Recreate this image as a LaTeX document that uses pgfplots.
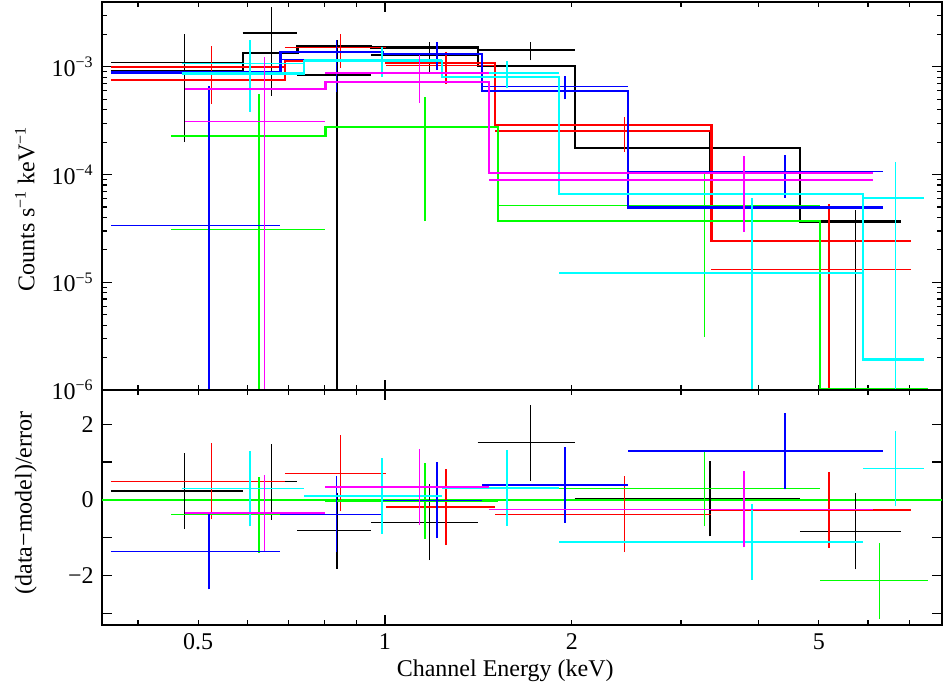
\documentclass[border=0pt]{standalone}
\usepackage{fontspec}
\setmainfont{Liberation Serif}
\usepackage{pgfplots}
\pgfplotsset{compat=1.18}

\definecolor{pgred}{RGB}{255,0,0}
\definecolor{pggreen}{RGB}{0,255,0}
\definecolor{pgblue}{RGB}{0,0,255}
\definecolor{pgcyan}{RGB}{0,255,255}
\definecolor{pgmag}{RGB}{255,0,255}

% data crosses are drawn as segments: bin edges at the rate, and the
% error range at the bin centre; (1,nan) breaks the line between bins.
% lower ends at 1e-7 are errors running below zero (cut by the axis).
\pgfplotsset{
  dl/.style={draw=#1, line width=0.75pt, mark=none, unbounded coords=jump},
  mdl/.style={const plot mark left, mark=none, line width=1.1pt, draw=#1},
}

\begin{document}
\fontsize{12}{14}\selectfont
\begin{tikzpicture}
\begin{axis}[name=top, at={(0,0)}, anchor=north west,
    scale only axis, width=420pt, height=194pt,
    xmode=log, xmin=0.35, xmax=7.9,
    xtick={1}, minor xtick={0.4,0.5,0.6,0.7,0.8,0.9,2,3,4,5,6,7},
    xticklabels={},
    xtick pos=both, ytick pos=both,
    tick align=inside,
    major tick length=5pt, minor tick length=2.5pt,
    tick style={black, line width=0.6pt},
    axis line style={line width=0.65pt},
    ymode=log, ymin=1e-6, ymax=4e-3,
    ytick={1e-6,1e-5,1e-4,1e-3},
    yticklabels={10\textsuperscript{−6},10\textsuperscript{−5},10\textsuperscript{−4},10\textsuperscript{−3}},
    minor ytick={2e-6,3e-6,4e-6,5e-6,6e-6,7e-6,8e-6,9e-6,
                 2e-5,3e-5,4e-5,5e-5,6e-5,7e-5,8e-5,9e-5,
                 2e-4,3e-4,4e-4,5e-4,6e-4,7e-4,8e-4,9e-4,2e-3,3e-3},
    ylabel={Counts s\textsuperscript{−1} keV\textsuperscript{−1}},
    ylabel style={at={(axis description cs:-0.0917,0.467)}, anchor=center},
]
% black
\addplot[dl=black] coordinates {
 (0.3617,1.10e-3) (0.5897,1.10e-3) (1,nan)
 (0.5897,2.07e-3) (0.7227,2.07e-3) (1,nan)
 (0.7227,8.43e-4) (0.9500,8.43e-4) (1,nan)
 (0.9500,1.29e-3) (1.4102,1.29e-3) (1,nan)
 (1.4102,1.43e-3) (2.0213,1.43e-3) (1,nan)
 (2.0213,1.78e-4) (4.6625,1.78e-4)};
\addplot[dl=black] coordinates {
 (0.4757,2.0e-4) (0.4757,2.0e-3) (1,nan)
 (0.6562,5.4e-4) (0.6562,3.6e-3) (1,nan)
 (0.8364,1e-7) (0.8364,1.763e-3) (1,nan)
 (1.1801,8.8e-4) (1.1801,1.70e-3) (1,nan)
 (1.7158,1.15e-3) (1.7158,1.71e-3) (1,nan)
 (3.3419,1.08e-4) (3.3419,2.48e-4) (1,nan)
 (5.7263,1e-7) (5.7263,4.7e-5)};
\addplot[mdl=black] coordinates {(0.3617,9.1e-4) (0.5897,1.35e-3) (0.7227,1.56e-3) (0.9500,1.51e-3) (1.4102,1.015e-3) (2.0213,1.755e-4) (4.6625,3.67e-5) (6.790,3.67e-5)};
% red
\addplot[dl=pgred] coordinates {
 (0.3617,1.00e-3) (0.6899,1.00e-3) (1,nan)
 (0.6899,1.51e-3) (1.0056,1.51e-3) (1,nan)
 (1.0056,1.026e-3) (1.5046,1.026e-3) (1,nan)
 (1.5046,2.54e-4) (3.3584,2.54e-4) (1,nan)
 (3.3584,1.31e-5) (7.0327,1.31e-5)};
\addplot[dl=pgred] coordinates {
 (0.5258,4.5e-4) (0.5258,1.55e-3) (1,nan)
 (0.8478,9.8e-4) (0.8478,2.04e-3) (1,nan)
 (1.2551,6.91e-4) (1.2551,1.361e-3) (1,nan)
 (2.4315,1.63e-4) (2.4315,3.45e-4) (1,nan)
 (5.1956,1e-7) (5.1956,5.36e-5)};
\addplot[mdl=pgred] coordinates {(0.3617,7.53e-4) (0.6899,1.14e-3) (1.0056,1.09e-3) (1.5046,2.88e-4) (3.3584,2.40e-5) (7.0327,2.40e-5)};
% green
\addplot[dl=pggreen] coordinates {
 (0.4519,3.08e-5) (0.8017,3.08e-5) (1,nan)
 (0.8017,2.79e-4) (1.5203,2.79e-4) (1,nan)
 (1.5203,5.16e-5) (5.0300,5.16e-5)};
\addplot[dl=pggreen] coordinates {
 (0.6268,1e-7) (0.6268,5.55e-4) (1,nan)
 (1.1610,3.7e-5) (1.1610,5.21e-4) (1,nan)
 (3.2752,3.1e-6) (3.2752,1.016e-4)};
\addplot[mdl=pggreen] coordinates {(0.4519,2.30e-4) (0.8017,2.78e-4) (1.5203,3.73e-5) (5.0300,1.02e-6) (7.5082,1.02e-6)};
% blue
\addplot[dl=pgblue] coordinates {
 (0.3617,3.37e-5) (0.6785,3.37e-5) (1,nan)
 (0.6785,1.174e-3) (0.9908,1.174e-3) (1,nan)
 (0.9908,1.317e-3) (1.4337,1.317e-3) (1,nan)
 (1.4337,6.6e-4) (2.4643,6.6e-4) (1,nan)
 (2.4643,1.067e-4) (6.3558,1.067e-4)};
\addplot[dl=pgblue] coordinates {
 (0.5201,1e-7) (0.5201,6.64e-4) (1,nan)
 (0.8347,5.84e-4) (0.8347,1.764e-3) (1,nan)
 (1.2123,9.33e-4) (1.2123,1.701e-3) (1,nan)
 (1.9490,5.0e-4) (1.9490,8.2e-4) (1,nan)
 (4.4101,6.07e-5) (4.4101,1.527e-4)};
\addplot[mdl=pgblue] coordinates {(0.3617,8.86e-4) (0.6785,1.38e-3) (0.9908,1.32e-3) (1.4337,6.0e-4) (2.4643,4.94e-5) (6.3558,4.94e-5)};
% cyan
\addplot[dl=pgcyan] coordinates {
 (0.4702,1.075e-3) (0.7416,1.075e-3) (1,nan)
 (0.7416,1.17e-3) (1.2358,1.17e-3) (1,nan)
 (1.2358,8.8e-4) (1.9091,8.8e-4) (1,nan)
 (1.9091,1.22e-5) (5.8966,1.22e-5) (1,nan)
 (5.8966,6.04e-5) (7.3961,6.04e-5)};
\addplot[dl=pgcyan] coordinates {
 (0.6059,3.85e-4) (0.6059,1.765e-3) (1,nan)
 (0.9887,8.1e-4) (0.9887,1.53e-3) (1,nan)
 (1.5725,6.3e-4) (1.5725,1.13e-3) (1,nan)
 (3.9029,1e-7) (3.9029,6.02e-5) (1,nan)
 (6.6464,1e-7) (6.6464,1.314e-4)};
\addplot[mdl=pgcyan] coordinates {(0.4702,8.68e-4) (0.7416,1.13e-3) (1.2358,8.0e-4) (1.9091,6.58e-5) (5.8966,1.92e-6) (7.3961,1.92e-6)};
% magenta
\addplot[dl=pgmag] coordinates {
 (0.4768,3.10e-4) (0.8017,3.10e-4) (1,nan)
 (0.8017,8.8e-4) (1.4720,8.8e-4) (1,nan)
 (1.4720,8.93e-5) (6.1083,8.93e-5)};
\addplot[dl=pgmag] coordinates {
 (0.6393,1e-7) (0.6393,1.24e-3) (1,nan)
 (1.1369,4.6e-4) (1.1369,1.30e-3) (1,nan)
 (3.7902,2.93e-5) (3.7902,1.493e-4)};
\addplot[mdl=pgmag] coordinates {(0.4768,6.18e-4) (0.8017,7.26e-4) (1.4720,1.03e-4) (6.1083,1.03e-4)};
\end{axis}

\begin{axis}[at={(top.south west)}, anchor=north west,
    scale only axis, width=420pt, height=117.5pt,
    xmode=log, xmin=0.35, xmax=7.9,
    xtick={1}, minor xtick={0.4,0.5,0.6,0.7,0.8,0.9,2,3,4,5,6,7},
    xticklabels={1},
    extra x ticks={0.5,2,5}, extra x tick labels={0.5,2,5},
    extra x tick style={major tick length=2.5pt},
    xtick pos=both, ytick pos=both,
    tick align=inside,
    major tick length=5pt, minor tick length=2.5pt,
    tick style={black, line width=0.6pt},
    axis line style={line width=0.65pt},
    ymin=-3.3, ymax=2.9,
    ytick={-3,-2,-1,0,1,2}, yticklabels={,−2,,0,,2},
    minor y tick num=0,
    xlabel={Channel Energy (keV)},
    xlabel style={at={(axis description cs:0.48,-0.193)}, anchor=center},
    ylabel={(data−model)/error},
    ylabel style={at={(axis description cs:-0.0905,0.519)}, anchor=center},
]
\addplot[pggreen, line width=0.75pt] coordinates {(0.35,0) (7.9,0)};
% residuals: bin edges at r, and r-1 to r+1 at the bin centre
\addplot[dl=black] coordinates {
 (0.3617,0.23) (0.5897,0.23) (1,nan) (0.5897,0.48) (0.7227,0.48) (1,nan)
 (0.7227,-0.81) (0.9500,-0.81) (1,nan) (0.9500,-0.59) (1.4102,-0.59) (1,nan)
 (1.4102,1.51) (2.0213,1.51) (1,nan) (2.0213,0.04) (4.6625,0.04) (1,nan)
 (4.6625,-0.83) (6.790,-0.83)};
\addplot[dl=black] coordinates {
 (0.4757,-0.77) (0.4757,1.23) (1,nan) (0.6562,-0.52) (0.6562,1.48) (1,nan)
 (0.8364,-1.81) (0.8364,0.19) (1,nan) (1.1801,-1.59) (1.1801,0.41) (1,nan)
 (1.7158,0.51) (1.7158,2.51) (1,nan) (3.3419,-0.96) (3.3419,1.04) (1,nan)
 (5.7263,-1.83) (5.7263,0.17)};
\addplot[dl=pgred] coordinates {
 (0.3617,0.49) (0.6899,0.49) (1,nan) (0.6899,0.70) (1.0056,0.70) (1,nan)
 (1.0056,-0.19) (1.5046,-0.19) (1,nan) (1.5046,-0.38) (3.3584,-0.38) (1,nan)
 (3.3584,-0.27) (7.0327,-0.27)};
\addplot[dl=pgred] coordinates {
 (0.5258,-0.51) (0.5258,1.49) (1,nan) (0.8478,-0.30) (0.8478,1.70) (1,nan)
 (1.2551,-1.19) (1.2551,0.81) (1,nan) (2.4315,-1.38) (2.4315,0.62) (1,nan)
 (5.1956,-1.27) (5.1956,0.73)};
\addplot[dl=pggreen] coordinates {
 (0.4519,-0.39) (0.8017,-0.39) (1,nan) (0.8017,-0.03) (1.5203,-0.03) (1,nan)
 (1.5203,0.30) (5.0300,0.30) (1,nan) (5.0300,-2.13) (7.5082,-2.13)};
\addplot[dl=pggreen] coordinates {
 (0.6268,-1.39) (0.6268,0.61) (1,nan) (1.1610,-1.03) (1.1610,0.97) (1,nan)
 (3.2752,-0.70) (3.2752,1.30) (1,nan) (6.2691,-3.13) (6.2691,-1.13)};
\addplot[dl=pgblue] coordinates {
 (0.3617,-1.36) (0.6785,-1.36) (1,nan) (0.6785,-0.38) (0.9908,-0.38) (1,nan)
 (0.9908,-0.01) (1.4337,-0.01) (1,nan) (1.4337,0.40) (2.4643,0.40) (1,nan)
 (2.4643,1.29) (6.3558,1.29)};
\addplot[dl=pgblue] coordinates {
 (0.5201,-2.36) (0.5201,-0.36) (1,nan) (0.8347,-1.38) (0.8347,0.62) (1,nan)
 (1.2123,-1.01) (1.2123,0.99) (1,nan) (1.9490,-0.60) (1.9490,1.40) (1,nan)
 (4.4101,0.29) (4.4101,2.29)};
\addplot[dl=pgcyan] coordinates {
 (0.4702,0.30) (0.7416,0.30) (1,nan) (0.7416,0.11) (1.2358,0.11) (1,nan)
 (1.2358,0.32) (1.9091,0.32) (1,nan) (1.9091,-1.11) (5.8966,-1.11) (1,nan)
 (5.8966,0.83) (7.3961,0.83)};
\addplot[dl=pgcyan] coordinates {
 (0.6059,-0.70) (0.6059,1.30) (1,nan) (0.9887,-0.89) (0.9887,1.11) (1,nan)
 (1.5725,-0.68) (1.5725,1.32) (1,nan) (3.9029,-2.11) (3.9029,-0.11) (1,nan)
 (6.6464,-0.17) (6.6464,1.83)};
\addplot[dl=pgmag] coordinates {
 (0.4768,-0.34) (0.8017,-0.34) (1,nan) (0.8017,0.34) (1.4720,0.34) (1,nan)
 (1.4720,-0.25) (6.1083,-0.25)};
\addplot[dl=pgmag] coordinates {
 (0.6393,-1.34) (0.6393,0.66) (1,nan) (1.1369,-0.66) (1.1369,1.34) (1,nan)
 (3.7902,-1.25) (3.7902,0.75)};
\end{axis}

\pgfresetboundingbox
\path[use as bounding box] ([shift={(-51pt,1pt)}]top.north west) rectangle ([shift={(421.5pt,-341.5pt)}]top.north west);
\end{tikzpicture}
\end{document}
